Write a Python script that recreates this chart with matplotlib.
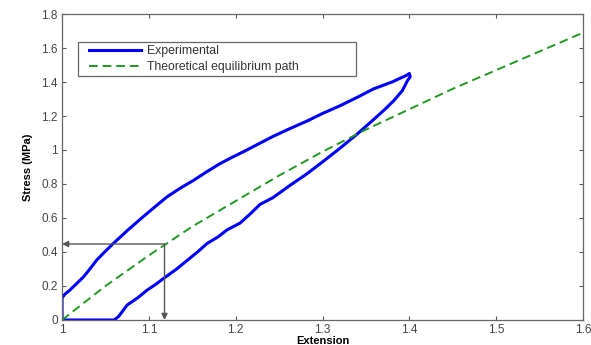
import numpy as np
import matplotlib
matplotlib.use('Agg')
import matplotlib.pyplot as plt
from matplotlib.patches import Rectangle

plt.rcParams['font.family'] = ['Liberation Sans', 'DejaVu Sans']

# experimental loop: loading branch then unloading branch
exp_x = [1.0, 1.03, 1.06, 1.065, 1.075, 1.087, 1.098, 1.108, 1.117, 1.132, 1.144,
         1.156, 1.167, 1.18, 1.19, 1.205, 1.218, 1.228, 1.243, 1.262, 1.282, 1.30,
         1.32, 1.339, 1.359, 1.372, 1.382, 1.392, 1.398, 1.401, 1.40,
         1.397, 1.38, 1.359, 1.34, 1.32, 1.30, 1.282, 1.262, 1.243, 1.226, 1.209,
         1.195, 1.182, 1.166, 1.151, 1.136, 1.121, 1.108, 1.094, 1.076, 1.059,
         1.049, 1.04, 1.032, 1.025, 1.017, 1.009, 1.003, 1.0, 1.0]
exp_y = [0.0, 0.0, 0.0, 0.02, 0.088, 0.13, 0.176, 0.21, 0.245, 0.30, 0.35,
         0.40, 0.45, 0.49, 0.53, 0.57, 0.63, 0.68, 0.72, 0.79, 0.86, 0.93,
         1.01, 1.09, 1.18, 1.24, 1.29, 1.35, 1.41, 1.43, 1.45,
         1.44, 1.40, 1.36, 1.31, 1.26, 1.215, 1.17, 1.125, 1.08, 1.035, 0.99,
         0.955, 0.92, 0.87, 0.82, 0.775, 0.725, 0.67, 0.61, 0.53, 0.45,
         0.40, 0.353, 0.30, 0.255, 0.215, 0.176, 0.15, 0.13, 0.0]

# theoretical equilibrium path
theo_x = [1.0, 1.05, 1.1, 1.15, 1.2, 1.25, 1.3, 1.35, 1.4, 1.45, 1.5, 1.55, 1.6]
theo_y = [0.0, 0.20, 0.38, 0.55, 0.70, 0.85, 0.99, 1.12, 1.24, 1.36, 1.47, 1.58, 1.69]

# arrow corner
pt_x = 1.118
pt_y = 0.447

fig = plt.figure(figsize=(5.91, 3.45), dpi=100)
ax = fig.add_axes([0.105, 0.0725, 0.8815, 0.8869])

ax.plot(exp_x, exp_y, color='#0000ff', lw=2.2, label='Experimental', solid_joinstyle='round')
ax.plot(theo_x, theo_y, color='#229922', lw=1.4, ls=(0, (4.5, 2.5)), label='Theoretical equilibrium path')

arr = dict(arrowstyle='-|>', color='#555555', lw=1.0, mutation_scale=9,
           shrinkA=0, shrinkB=0)
ax.annotate('', xy=(1.0, pt_y), xytext=(pt_x, pt_y), arrowprops=arr)
ax.annotate('', xy=(pt_x, 0.0), xytext=(pt_x, pt_y), arrowprops=arr)

ax.set_xlim(1, 1.6)
ax.set_ylim(0, 1.8)
ax.set_xticks([1, 1.1, 1.2, 1.3, 1.4, 1.5, 1.6])
ax.set_xticklabels(['1', '1.1', '1.2', '1.3', '1.4', '1.5', '1.6'])
ax.set_yticks(np.arange(0, 1.81, 0.2))
ax.set_yticklabels(['0', '0.2', '0.4', '0.6', '0.8', '1', '1.2', '1.4', '1.6', '1.8'])
ax.tick_params(direction='in', length=3, width=0.8, top=True, right=True,
               labelsize=8.5, colors='#555555', labelcolor='#444444', pad=3)
for s in ax.spines.values():
    s.set_color('#666666')
    s.set_linewidth(0.9)

ax.set_xlabel('Extension', fontsize=8, fontweight='bold', labelpad=0)
ax.set_ylabel('Stress (MPa)', fontsize=8, fontweight='bold', labelpad=6)

# legend box (MATLAB style, wider than its text)
ax.add_patch(Rectangle((0.031, 0.797), 0.533, 0.111, transform=ax.transAxes,
                       facecolor='white', edgecolor='#666666', lw=0.9, zorder=4))
leg = ax.legend(loc='upper left', bbox_to_anchor=(0.05, 0.903), fontsize=8.8,
                frameon=False, handlelength=4.2, borderpad=0.1, labelspacing=0.35,
                handletextpad=0.5, borderaxespad=0)
leg.set_zorder(5)
for t in leg.get_texts():
    t.set_color('#333333')

fig.savefig('out.png', dpi=100)
